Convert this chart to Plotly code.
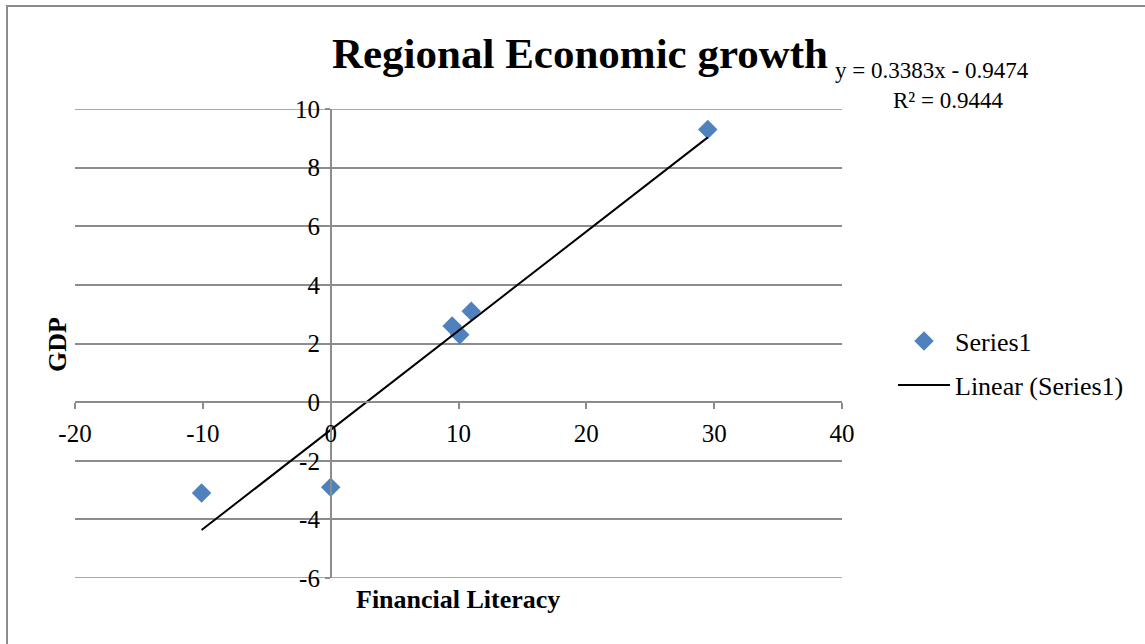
import plotly.graph_objects as go

# Regional data: financial literacy score vs GDP growth
financial_literacy = [-10.1, 0.0, 9.5, 10.1, 11.0, 29.5]
gdp = [-3.1, -2.9, 2.6, 2.3, 3.1, 9.3]

# Linear trend coefficients shown in the equation label
slope = 0.3383
intercept = -0.9474
r_squared = 0.9444

x_ticks = [-20, -10, 0, 10, 20, 30, 40]
y_ticks = [-6, -4, -2, 0, 2, 4, 6, 8, 10]

W, H = 1145, 644
L, R, T, B = 75, 303, 109, 66
PW, PH = W - L - R, H - T - B


def px(xp):
    return (xp - L) / PW


def py(yp):
    return (H - B - yp) / PH


SERIF = "Liberation Serif, Times New Roman, serif"
GRID = "#8c8c8c"
TICK_SIZE = 25

trend_x = [min(financial_literacy), max(financial_literacy)]
trend_y = [slope * v + intercept for v in trend_x]

fig = go.Figure()
fig.add_trace(go.Scatter(
    x=financial_literacy, y=gdp, mode="markers", name="Series1",
    marker=dict(symbol="diamond", size=15, color="#4F81BD"),
    legend="legend",
))
fig.add_trace(go.Scatter(
    x=trend_x, y=trend_y, mode="lines", name="Linear (Series1)",
    line=dict(color="black", width=2),
    legend="legend2",
))

fig.update_layout(
    width=W, height=H,
    margin=dict(l=L, r=R, t=T, b=B),
    paper_bgcolor="white", plot_bgcolor="white",
    font=dict(family=SERIF, size=23, color="black"),
    title=dict(text="<b>Regional Economic growth</b>", font=dict(size=43, family=SERIF),
               xref="paper", x=px(580), xanchor="center",
               yref="container", y=1 - 53 / H, yanchor="middle"),
    xaxis=dict(range=[x_ticks[0], x_ticks[-1]], tickvals=x_ticks,
               ticktext=[str(v) for v in x_ticks], showgrid=False, zeroline=False,
               showline=True, linecolor=GRID, linewidth=1.5,
               ticks="outside", ticklen=6, tickcolor=GRID, tickwidth=1.5,
               ticklabelstandoff=3,
               anchor="free", position=(0 - y_ticks[0]) / (y_ticks[-1] - y_ticks[0]),
               tickfont=dict(size=TICK_SIZE)),
    yaxis=dict(range=[y_ticks[0], y_ticks[-1]], tickvals=y_ticks,
               ticktext=[str(v) for v in y_ticks], showgrid=True, gridcolor=GRID, gridwidth=1.5,
               zeroline=False, showline=True, linecolor=GRID, linewidth=1.5,
               ticks="outside", ticklen=5, tickcolor=GRID, tickwidth=1.5,
               anchor="free", position=(0 - x_ticks[0]) / (x_ticks[-1] - x_ticks[0]),
               tickfont=dict(size=TICK_SIZE)),
    legend=dict(x=px(893), y=py(341), xanchor="left", yanchor="middle", itemwidth=52,
                bgcolor="rgba(0,0,0,0)", font=dict(size=26)),
    legend2=dict(x=px(893), y=py(385), xanchor="left", yanchor="middle", itemwidth=52,
                 bgcolor="rgba(0,0,0,0)", font=dict(size=26)),
    showlegend=True,
)

# Gridlines at the ends of the value range
for v in (y_ticks[0], y_ticks[-1]):
    fig.add_shape(type="line", xref="paper", yref="y", x0=0, x1=1, y0=v, y1=v,
                  line=dict(color=GRID, width=1.5), layer="below")

# Axis titles
fig.add_annotation(text="<b>Financial Literacy</b>", xref="paper", yref="paper",
                   x=px(458), y=py(599), xanchor="center", yanchor="middle",
                   showarrow=False, font=dict(size=26))
fig.add_annotation(text="<b>GDP</b>", xref="paper", yref="paper", textangle=-90,
                   x=px(57), y=py(345), xanchor="center", yanchor="middle",
                   showarrow=False, font=dict(size=26))

# Trendline equation and R²
fig.add_annotation(text=f"y = {slope:.4f}x - {abs(intercept):.4f}", xref="paper", yref="paper",
                   x=px(932), y=py(70), xanchor="center", yanchor="middle",
                   showarrow=False, font=dict(size=23))
fig.add_annotation(text=f"R² = {r_squared:.4f}", xref="paper", yref="paper",
                   x=px(948), y=py(100), xanchor="center", yanchor="middle",
                   showarrow=False, font=dict(size=23))

# Chart frame
fig.add_shape(type="rect", xref="paper", yref="paper",
              x0=px(7), y0=py(700), x1=px(1200), y1=py(6),
              line=dict(color="#8c8c8c", width=2), fillcolor="rgba(0,0,0,0)", layer="below")

fig.write_html("out.html")
